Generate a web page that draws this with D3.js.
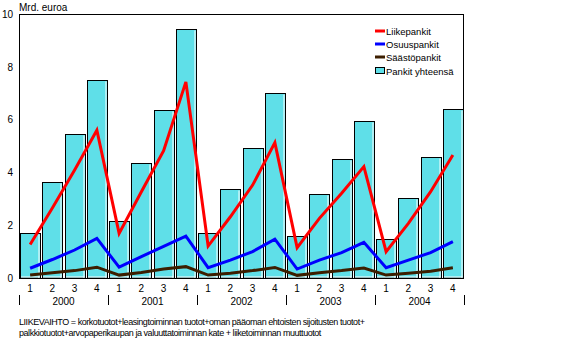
<!DOCTYPE html>
<html><head><meta charset="utf-8">
<script src="https://cdn.jsdelivr.net/npm/d3@7"></script>
<style>body{margin:0;background:#fff}svg{display:block}text{font-family:"Liberation Sans",Arial,sans-serif;fill:#000}</style>
</head><body>
<script>
const years = ["2000","2001","2002","2003","2004"];
const quarters = ["1","2","3","4"];
const yTicks = [0,2,4,6,8,10];
const total = [1.69,3.64,5.44,7.49, 2.15,4.36,6.35,9.42, 1.69,3.36,4.91,7.0, 1.58,3.17,4.5,5.94, 1.48,3.02,4.57,6.39];
const liike = [1.27,2.65,4.09,5.6, 1.69,3.27,4.82,7.43, 1.21,2.32,3.52,5.13, 1.15,2.26,3.21,4.22, 1.0,2.07,3.27,4.66];
const osuus = [0.37,0.7,1.06,1.5, 0.41,0.81,1.2,1.59, 0.39,0.68,1.0,1.47, 0.34,0.68,0.96,1.35, 0.39,0.68,0.96,1.38];
const saasto = [0.11,0.2,0.28,0.41, 0.11,0.21,0.34,0.43, 0.11,0.18,0.28,0.4, 0.1,0.2,0.28,0.38, 0.11,0.18,0.26,0.39];
const seriesNames = ["Liikepankit","Osuuspankit","Säästöpankit","Pankit yhteensä"];
const colors = {line1:"#ff0000", line2:"#0000ff", line3:"#3c1e00", bar:"#5fdfe8"};
const footnote = ["LIIKEVAIHTO = korkotuotot+leasingtoiminnan tuotot+oman pääoman ehtoisten sijoitusten tuotot+",
                  "palkkiotuotot+arvopaperikaupan ja valuuttatoiminnan kate + liiketoiminnan muuttuotot"];

const W=577,H=340;
const L=19,R=464,T=14,B=278;
const svg=d3.select("body").append("svg").attr("width",W).attr("height",H);
const keys = [];
years.forEach(y=>quarters.forEach(q=>keys.push(y+"-"+q)));
const x=d3.scaleBand().domain(keys).range([L,R]).paddingInner(0.1).paddingOuter(0.05);
const y=d3.scaleLinear().domain([0,10]).range([B,T]);

// bars
const g=svg.append("g");
keys.forEach((k,i)=>{
  const x0=Math.round(x(k))+0.5, w=Math.round(x.bandwidth()), y0=Math.round(y(total[i]))+0.5;
  g.append("rect").attr("x",x0).attr("y",y0).attr("width",w).attr("height",B-y0)
    .attr("fill",colors.bar).attr("stroke","#000").attr("stroke-width",1);
  g.append("line").attr("x1",x0+w-1.5).attr("x2",x0+w-1.5).attr("y1",y0+1).attr("y2",B).attr("stroke","#fff").attr("stroke-width",1);
  g.append("line").attr("x1",x0+0.5).attr("x2",x0+w-1).attr("y1",B-1).attr("y2",B-1).attr("stroke","#fff").attr("stroke-width",1);
});

// lines
const lineGen=d3.line().x((d,i)=>x(keys[i])+x.bandwidth()/2).y(d=>y(d));
[[liike,colors.line1],[osuus,colors.line2],[saasto,colors.line3]].forEach(([data,c])=>{
  svg.append("path").attr("d",lineGen(data)).attr("fill","none").attr("stroke",c).attr("stroke-width",3).attr("stroke-linejoin","miter");
});

// frame
svg.append("rect").attr("x",L+0.5).attr("y",T+0.5).attr("width",R-L-1).attr("height",B-T).attr("fill","none").attr("stroke","#000").attr("stroke-width",1);

// y axis labels
const yAxis=d3.axisLeft(y).tickValues(yTicks).tickSize(0).tickPadding(0).tickFormat(d3.format("d"));
const ya=svg.append("g").attr("transform",`translate(${L-6},0)`).call(yAxis);
ya.select(".domain").remove();
ya.selectAll("text").attr("font-size",10).attr("font-family","Liberation Sans, Arial, sans-serif").attr("fill","#000");

svg.append("text").attr("x",L).attr("y",11).attr("font-size",10).text("Mrd. euroa");

// x axis quarter labels
const xAxis=d3.axisBottom(x).tickSize(0).tickPadding(0).tickFormat(k=>k.split("-")[1]);
const xa=svg.append("g").attr("transform",`translate(0,${B+7})`).call(xAxis);
xa.select(".domain").remove();
xa.selectAll("text").attr("font-size",10).attr("font-family","Liberation Sans, Arial, sans-serif").attr("fill","#000");

// year labels and separators
const yearW=(R-L)/years.length;
years.forEach((yr,i)=>{
  svg.append("text").attr("x",L+yearW*(i+0.5)).attr("y",305).attr("text-anchor","middle").attr("font-size",10).text(yr);
});
d3.range(years.length+1).forEach(i=>{
  const xx=Math.round(L+yearW*i)+0.5;
  svg.append("line").attr("x1",xx).attr("x2",xx).attr("y1",295).attr("y2",305).attr("stroke","#000");
});

// legend
const lg=svg.append("g");
const legY=[31,44,57,71];
[colors.line1,colors.line2,colors.line3].forEach((c,i)=>{
  lg.append("line").attr("x1",375).attr("x2",385).attr("y1",legY[i]).attr("y2",legY[i]).attr("stroke",c).attr("stroke-width",3);
});
lg.append("rect").attr("x",375.5).attr("y",legY[3]-3.5).attr("width",9).attr("height",6).attr("fill",colors.bar).attr("stroke","#000");
seriesNames.forEach((n,i)=>{
  lg.append("text").attr("x",386).attr("y",legY[i]+3.5).attr("font-size",9.5).text(n);
});

// footnote
footnote.forEach((t,i)=>{
  svg.append("text").attr("x",19).attr("y",325+i*11).attr("font-size",9).attr("letter-spacing",-0.45).text(t);
});
</script>
</body></html>
